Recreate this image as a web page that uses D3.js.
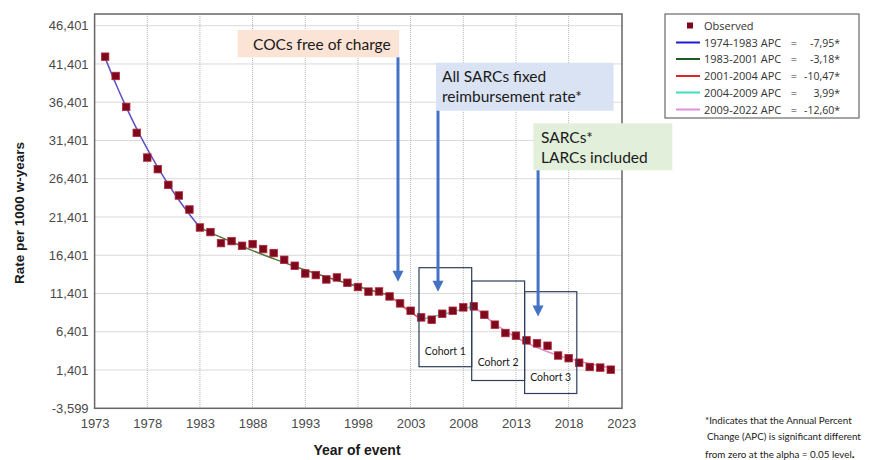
<!DOCTYPE html>
<html>
<head>
<meta charset="utf-8">
<script src="https://cdn.jsdelivr.net/npm/d3@7"></script>
<style>
  html, body { margin: 0; padding: 0; background: #ffffff; }
  svg { display: block; }
</style>
</head>
<body>
<svg id="chart" width="887" height="460"></svg>
<script>
// ---------------- DATA ----------------
const years = [1974,1975,1976,1977,1978,1979,1980,1981,1982,1983,1984,1985,1986,1987,1988,1989,1990,1991,1992,1993,1994,1995,1996,1997,1998,1999,2000,2001,2002,2003,2004,2005,2006,2007,2008,2009,2010,2011,2012,2013,2014,2015,2016,2017,2018,2019,2020,2021,2022];
const observed = [42.35,39.83,35.79,32.40,29.17,27.65,25.60,24.21,22.38,20.03,19.43,17.99,18.25,17.64,17.86,17.21,16.69,15.81,15.03,14.02,13.81,13.24,13.50,12.81,12.25,11.65,11.67,11.02,10.11,9.15,8.28,7.98,8.76,9.15,9.59,9.72,8.63,7.33,6.24,5.89,5.28,4.89,4.58,3.30,2.95,2.36,1.80,1.72,1.45];

// fitted (joinpoint) segments
const seg1Years = [1974,1975,1976,1977,1978,1979,1980,1981,1982,1983];
const seg1Fit   = [42.2,38.85,35.76,32.92,30.30,27.89,25.67,23.63,21.75,20.02];
const seg2Years = [1983,1984,1985,1986,1987,1988,1989,1990,1991,1992,1993,1994,1995,1996,1997,1998,1999,2000,2001];
const seg2Fit   = [20.02,19.36,18.75,18.15,17.57,17.01,16.47,15.95,15.44,14.95,14.47,14.01,13.57,13.14,12.72,12.31,11.92,11.54,11.18];
const seg3Years = [2001,2002,2003,2004];
const seg3Fit   = [11.18,10.01,8.96,8.02];
const seg4Years = [2004,2005,2006,2007,2008,2009];
const seg4Fit   = [8.02,8.34,8.67,9.02,9.38,9.75];
const seg5Years = [2009,2010,2011,2012,2013,2014,2015,2016,2017,2018,2019,2020,2021,2022];
const seg5Fit   = [9.75,8.52,7.45,6.51,5.69,4.97,4.35,3.80,3.32,2.90,2.54,2.22,1.94,1.69];

const legendLabels = ["1974-1983 APC","1983-2001 APC","2001-2004 APC","2004-2009 APC","2009-2022 APC"];
const legendValues = ["-7,95*","-3,18*","-10,47*","3,99*","-12,60*"];
const segColors    = ["#1c1cd8","#1f5a1f","#e02424","#3fdcc8","#e08ee0"];
const lineColors   = ["#5a52c4","#4e7a3a","#d84a4a","#62c8b8","#e48cc8"];

const xTickValues = [1973,1978,1983,1988,1993,1998,2003,2008,2013,2018,2023];
const xTickLabels = ["1973","1978","1983","1988","1993","1998","2003","2008","2013","2018","2023"];
const yTickValues = [46.401,41.401,36.401,31.401,26.401,21.401,16.401,11.401,6.401,1.401,-3.599];
const yTickLabels = ["46,401","41,401","36,401","31,401","26,401","21,401","16,401","11,401","6,401","1,401","-3,599"];

// annotation arrows: [year, value at arrow tip]
const arrowYears  = [2001.8, 2005.6, 2015.1];
const arrowTips   = [12.95, 11.62, 8.40];

// ---------------- LAYOUT ----------------
const svg = d3.select("#chart");
const L = 94.6, R = 621.3, T = 25.7, B = 408.3, frameTop = 14;

const x = d3.scaleLinear().domain([1973, 2023]).range([L, R]);
const y = d3.scaleLinear().domain([-3.599, 46.401]).range([B, T]);

// gridlines
const grid = svg.append("g");
grid.selectAll("line.h").data(yTickValues.slice(0, -1)).enter().append("line")
  .attr("x1", L).attr("x2", R + 0.7)
  .attr("y1", d => y(d)).attr("y2", d => y(d))
  .attr("stroke", "#b4b4b4").attr("stroke-width", 1).attr("stroke-dasharray", "1,1");
grid.selectAll("line.v").data(xTickValues.slice(1, -1)).enter().append("line")
  .attr("x1", d => x(d)).attr("x2", d => x(d))
  .attr("y1", frameTop).attr("y2", B)
  .attr("stroke", "#b4b4b4").attr("stroke-width", 1).attr("stroke-dasharray", "1,1");

// frame
svg.append("rect").attr("x", L).attr("y", frameTop).attr("width", R - L + 0.7).attr("height", B - frameTop)
  .attr("fill", "none").attr("stroke", "#666").attr("stroke-width", 1.5);

// axes
const yAxis = d3.axisLeft(y).tickValues(yTickValues).tickSize(0).tickPadding(6)
  .tickFormat((d, i) => yTickLabels[i]);
const gy = svg.append("g").attr("transform", `translate(${L},0)`).call(yAxis);
gy.select(".domain").remove();
gy.selectAll("text").attr("font-family", "Liberation Sans, Arial, sans-serif").attr("font-size", 13).attr("fill", "#4a4a4a");

const xAxis = d3.axisBottom(x).tickValues(xTickValues).tickSize(0).tickPadding(10)
  .tickFormat((d, i) => xTickLabels[i]);
const gx = svg.append("g").attr("transform", `translate(0,${B})`).call(xAxis);
gx.select(".domain").remove();
gx.selectAll("text").attr("font-family", "Liberation Sans, Arial, sans-serif").attr("font-size", 13).attr("fill", "#4a4a4a");

// axis titles
svg.append("text").attr("transform", "translate(24,213) rotate(-90)")
  .attr("text-anchor", "middle").attr("font-family", "Liberation Sans, Arial, sans-serif")
  .attr("font-weight", "bold").attr("font-size", 13.5).attr("fill", "#1a1a1a")
  .text("Rate per 1000 w-years");
svg.append("text").attr("x", 357).attr("y", 455)
  .attr("text-anchor", "middle").attr("font-family", "Liberation Sans, Arial, sans-serif")
  .attr("font-weight", "bold").attr("font-size", 14).attr("fill", "#1a1a1a")
  .text("Year of event");

// fitted lines
const segs = [[seg1Years, seg1Fit],[seg2Years, seg2Fit],[seg3Years, seg3Fit],[seg4Years, seg4Fit],[seg5Years, seg5Fit]];
const lineGen = d3.line().x(d => x(d[0])).y(d => y(d[1])).curve(d3.curveMonotoneX);
segs.forEach((s, i) => {
  svg.append("path").datum(d3.zip(s[0], s[1])).attr("d", lineGen)
    .attr("fill", "none").attr("stroke", lineColors[i]).attr("stroke-width", 1.5);
});

// observed points
const ms = 7.5;
svg.append("g").selectAll("rect").data(d3.zip(years, observed)).enter().append("rect")
  .attr("x", d => x(d[0]) - ms / 2).attr("y", d => y(d[1]) - ms / 2)
  .attr("width", ms).attr("height", ms)
  .attr("fill", "#7d0a1c").attr("stroke", "#b0283c").attr("stroke-width", 0.8);

// cohort boxes
const cohorts = [
  {x0: 419.0, y0: 267.7, x1: 471.7, y1: 366.7, label: "Cohort 1", ly: 355},
  {x0: 471.7, y0: 281.0, x1: 524.6, y1: 380.5, label: "Cohort 2", ly: 366},
  {x0: 524.6, y0: 291.7, x1: 576.8, y1: 393.5, label: "Cohort 3", ly: 381}
];
cohorts.forEach(c => {
  svg.append("rect").attr("x", c.x0).attr("y", c.y0).attr("width", c.x1 - c.x0).attr("height", c.y1 - c.y0)
    .attr("fill", "none").attr("stroke", "#2c3e5c").attr("stroke-width", 1.2);
  svg.append("text").attr("x", (c.x0 + c.x1) / 2).attr("y", c.ly).attr("text-anchor", "middle")
    .attr("font-family", "Lato, Open Sans, sans-serif").attr("font-size", 10.5).attr("fill", "#1a1a1a")
    .text(c.label);
});

// annotation boxes
const fontAnn = "Lato, Open Sans, sans-serif";
function annBox(x0, y0, w, h, fill, lines, tx, ty, lh) {
  svg.append("rect").attr("x", x0).attr("y", y0).attr("width", w).attr("height", h).attr("fill", fill);
  const t = svg.append("text").attr("font-family", fontAnn).attr("font-size", 15.5).attr("fill", "#1a1a1a");
  lines.forEach((ln, i) => t.append("tspan").attr("x", tx).attr("y", ty + i * lh).text(ln));
}
annBox(237.7, 30, 161.5, 27.3, "#fbe4d5", ["COCs free of charge"], 253, 49.5, 0);
annBox(436, 62.7, 177.5, 48, "#dae3f3", ["All SARCs fixed", "reimbursement rate*"], 442, 82, 20);
annBox(533.3, 123.3, 139, 47, "#e2efda", ["SARCs*", "LARCs included"], 541, 142.5, 20.5);

// arrows
const arrowStarts = [57.3, 110.7, 170.3];
arrowYears.forEach((yr, i) => {
  const ax = x(yr), tip = y(arrowTips[i]);
  svg.append("line").attr("x1", ax).attr("x2", ax).attr("y1", arrowStarts[i]).attr("y2", tip - 9)
    .attr("stroke", "#4472c4").attr("stroke-width", 3);
  svg.append("path").attr("d", `M${ax - 5.5},${tip - 11} L${ax + 5.5},${tip - 11} L${ax},${tip} Z`)
    .attr("fill", "#4472c4");
});

// legend
const lg = svg.append("g");
lg.append("rect").attr("x", 665).attr("y", 14).attr("width", 194).attr("height", 104)
  .attr("fill", "#fff").attr("stroke", "#6a6a6a").attr("stroke-width", 1.2);
const rowY = [25.5, 42.5, 59, 76, 92.5, 109.5];
lg.append("rect").attr("x", 687).attr("y", rowY[0] - 3).attr("width", 6).attr("height", 6).attr("fill", "#7d0a1c");
const lfont = "Open Sans, Noto Sans, sans-serif";
lg.append("text").attr("x", 704).attr("y", rowY[0] + 4).attr("font-family", lfont).attr("font-size", 11).attr("fill", "#333").text("Observed");
legendLabels.forEach((lab, i) => {
  const ry = rowY[i + 1];
  lg.append("line").attr("x1", 676).attr("x2", 700).attr("y1", ry).attr("y2", ry)
    .attr("stroke", segColors[i]).attr("stroke-width", 2);
  const t = lg.append("text").attr("y", ry + 4).attr("font-family", lfont).attr("font-size", 11).attr("fill", "#333");
  t.append("tspan").attr("x", 704).text(lab);
  t.append("tspan").attr("x", 794).attr("text-anchor", "middle").text("=");
  t.append("tspan").attr("x", 840).attr("text-anchor", "end").attr("font-size", 10.5).text(legendValues[i]);
});

// footnote
const fn = svg.append("text").attr("font-family", "Lato, Open Sans, sans-serif").attr("font-size", 9.8).attr("fill", "#1a1a1a");
fn.append("tspan").attr("x", 705).attr("y", 424).text("*Indicates that the Annual Percent");
fn.append("tspan").attr("x", 707).attr("y", 440).text("Change (APC) is significant different");
fn.append("tspan").attr("x", 705).attr("y", 458).text("from zero at the alpha = 0.05 level");
fn.append("tspan").attr("font-weight", "bold").attr("font-size", 12).text(".");
</script>
</body>
</html>
